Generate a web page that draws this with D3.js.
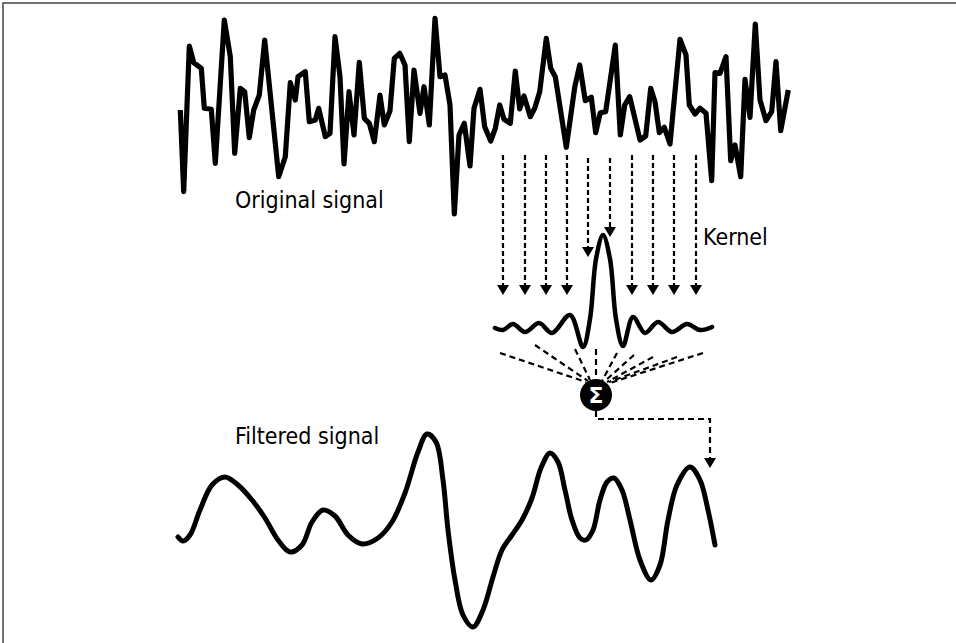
<!DOCTYPE html>
<html><head><meta charset="utf-8">
<script src="https://cdn.jsdelivr.net/npm/d3@7"></script>
<style>html,body{margin:0;padding:0;background:#fff;}svg{display:block;}</style>
</head><body>
<svg id="c" width="956" height="643"></svg>
<script>
// ---- Original (noisy) signal: time offsets and amplitudes ----
const origT = [0.3,3.7,9.3,13.7,21.3,24.3,31.3,35.3,44.3,50.3,54.7,60.3,64.7,69.3,73.7,79.3,84.7,98.7,105.3,110.3,115.3,118,125.3,129.3,135.3,138.7,145.3,150,155,160,164,169,174,179.3,184.3,189.3,194.3,200,204.3,210,214.3,219.7,225,229.3,234,240,244,249.3,255,260,265,270,274.3,279,284.3,290,294,300,304.7,310.7,315.3,319.7,324,330.3,335.3,339.7,344,350.3,354.7,359.7,366.3,370.7,375.3,386.3,394.7,399.7,405.3,411.3,415.7,420.3,425.7,435.3,440.3,444.7,449.7,460,465.7,470.7,475,479.3,484.3,490,500,506,509.3,515,520,526,531.7,535,540,546,550.7,555,560.7,565,570,575.3,580,586,591.7,596,600.7,608.3];
const origV = [105,23.3,169,152.3,146.7,106.7,105.7,51.7,195,158.3,61.7,126.7,123.3,77.3,105,120,175,38.3,58.3,132.3,115,138.3,143.3,93.3,95,106.7,78.3,81.7,178.3,138.3,51,123.3,80,152.7,96.7,91.7,73.3,120,90,104.3,156.7,161.7,150,73.3,145,101.7,128.3,90,196.7,138.3,140,110,1,80,91.7,49,106.7,125.7,88.3,74,86.7,110,95.7,91.7,144,106,119,98.3,106.7,123.3,176.7,146.7,138.3,67.7,127.7,150,114.3,117.7,82.3,102.3,103.3,170,80,110,118.3,75,79,126.7,113.3,82.3,87.7,71,175.7,160,110,101,106.7,101.7,34.3,142.3,141.7,158.3,54.3,70,38.3,135.7,97.7,191,115,94.3,103.3,153.3,84.3,125];

// ---- Filtered signal ----
const filtT = [-2,3,10,20,32,45,58,72,85,98,110,122,132,143,155,168,182,198,212,225,238,247,256,263,268,275,283,293,303,313,322,332,342,352,361,370,378,385,392,400,406,413,420,427,434,442,450,460,471,480,488,497,510,520,528,535];
const filtV = [103,99,105,130,155,163,155,140,122,100,88,95,118,130,124,105,96,102,118,147,188,206,198,160,110,60,25,13,30,63,90,105,120,142,172,187,178,150,120,102,100,110,140,158,162,150,120,80,60,75,120,155,173,160,130,95];

// ---- Kernel (taps relative to centre, weights) ----
const kernOff = [-108,-100,-90,-78,-64,-51,-33,-20,-13,-7,0,7,13,20,30,42,55,69,84,97,109];
const kernW   = [-1,-3,3,-5,4,-6,12,-20,8,68,92,68,8,-19,10,-6,5,-5,3,-3,0];

// ---- Arrows from input samples into kernel ----
const arrowT = [323,345,366,387,408,430,452,473,494,516];
const arrowEnd = [295,295,295,295,257,237,295,295,295,295];
const arrowStart = [155,155,155,155,158,158,155,155,155,155];

// ---- Fan lines from kernel taps into the sum node ----
const fanStart = [[500,353],[535,345],[575,349],[596,349],[617,353],[634,355],[653,357],[677,357],[703,353]];
const fanEnd   = [[586,382],[588,381],[590,380],[596,379],[602,381],[605,381],[607,382],[609,382],[610,383]];

const labels = {orig:"Original signal", kernel:"Kernel", filt:"Filtered signal", sum:"Σ"};

const svg = d3.select("#c");
const FONT = "'Liberation Sans Narrow', 'DejaVu Sans Condensed', sans-serif";

// frame
svg.append("path").attr("d","M3,700 L3,3 L1000,3").attr("fill","none").attr("stroke","#444").attr("stroke-width",1.5);

const x = d3.scaleLinear().domain([0,610]).range([180,790]);
const yTop = d3.scaleLinear().domain([0,200]).range([215,15]);
const yBot = d3.scaleLinear().domain([0,220]).range([640,420]);
const kx = d3.scaleLinear().domain([-108,109]).range([495,712]);
const ky = d3.scaleLinear().domain([-30,100]).range([357,227]);

// original signal
const lineTop = d3.line().x((d,i)=>x(origT[i])).y((d,i)=>yTop(origV[i]));
svg.append("path").attr("d",lineTop(origT)).attr("fill","none").attr("stroke","#000")
  .attr("stroke-width",5.2).attr("stroke-linejoin","round").attr("stroke-linecap","butt");

// filtered signal
const lineBot = d3.line().x((d,i)=>x(filtT[i])).y((d,i)=>yBot(filtV[i])).curve(d3.curveCatmullRom.alpha(0.5));
svg.append("path").attr("d",lineBot(filtT)).attr("fill","none").attr("stroke","#000")
  .attr("stroke-width",5).attr("stroke-linecap","round");

// kernel
const lineK = d3.line().x((d,i)=>kx(kernOff[i])).y((d,i)=>ky(kernW[i])).curve(d3.curveCatmullRom.alpha(0.5));
svg.append("path").attr("d",lineK(kernOff)).attr("fill","none").attr("stroke","#000")
  .attr("stroke-width",4.5).attr("stroke-linecap","round");

// arrows
const ag = svg.append("g");
arrowT.forEach((t,i)=>{
  const xx = x(t);
  ag.append("line").attr("x1",xx).attr("x2",xx).attr("y1",arrowStart[i]).attr("y2",arrowEnd[i]-9)
    .attr("stroke","#000").attr("stroke-width",2.2).attr("stroke-dasharray","5,3");
  ag.append("path").attr("d",`M${xx-6},${arrowEnd[i]-10} L${xx+6},${arrowEnd[i]-10} L${xx},${arrowEnd[i]} Z`).attr("fill","#000");
});

// fan lines
fanStart.forEach((s,i)=>{
  svg.append("line").attr("x1",s[0]).attr("y1",s[1]).attr("x2",fanEnd[i][0]).attr("y2",fanEnd[i][1])
    .attr("stroke","#000").attr("stroke-width",2.2).attr("stroke-dasharray","6,4");
});

// sum node
svg.append("circle").attr("cx",596).attr("cy",395).attr("r",16).attr("fill","#000");
svg.append("text").attr("x",596).attr("y",403).attr("text-anchor","middle").attr("fill","#fff")
  .attr("font-family","'DejaVu Sans', sans-serif").attr("font-weight","bold").attr("font-size",22).text(labels.sum);

// output connector
svg.append("path").attr("d","M596,411 L596,419 L710,419 L710,459").attr("fill","none")
  .attr("stroke","#000").attr("stroke-width",2.2).attr("stroke-dasharray","6,4");
svg.append("path").attr("d","M704,458 L716,458 L710,468 Z").attr("fill","#000");

// labels
svg.append("text").attr("x",235).attr("y",208).attr("font-family",FONT).attr("font-size",23).text(labels.orig);
svg.append("text").attr("x",703).attr("y",245).attr("font-family",FONT).attr("font-size",23).text(labels.kernel);
svg.append("text").attr("x",235).attr("y",444).attr("font-family",FONT).attr("font-size",23).text(labels.filt);
</script>
</body></html>
